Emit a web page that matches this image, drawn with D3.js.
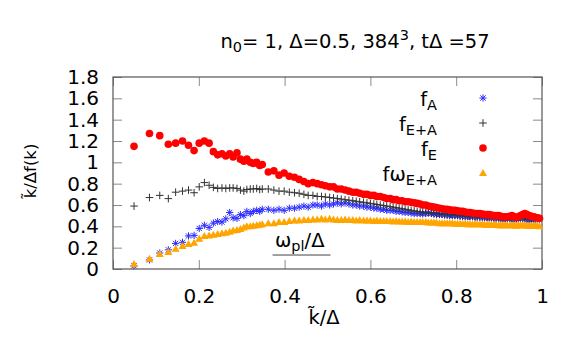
<!DOCTYPE html>
<html>
<head>
<meta charset="utf-8">
<script src="https://cdn.jsdelivr.net/npm/d3@7"></script>
<style>
  body { margin: 0; background: #fff; }
  svg { display: block; font-family: "DejaVu Sans", sans-serif; }
</style>
</head>
<body>
<div class="chart"></div>
<script>
// k-bins (in units of Delta)
const kValues = [
  0.049, 0.085, 0.109, 0.129, 0.146, 0.162, 0.176, 0.189, 0.201, 0.213, 0.224, 0.234, 0.244,
  0.254, 0.263, 0.272, 0.280, 0.289, 0.297, 0.305, 0.312, 0.320, 0.327, 0.335, 0.342, 0.348,
  0.362, 0.375, 0.387, 0.399, 0.411, 0.423, 0.434, 0.445, 0.455, 0.466,
  0.476, 0.486, 0.495, 0.505, 0.514, 0.523, 0.532, 0.541, 0.550, 0.559,
  0.567, 0.575, 0.584, 0.592, 0.600, 0.608, 0.615, 0.623, 0.631, 0.638,
  0.646, 0.653, 0.660, 0.667, 0.674, 0.681, 0.688, 0.695, 0.702, 0.709,
  0.716, 0.722, 0.729, 0.735, 0.742, 0.748, 0.754, 0.761, 0.767, 0.773,
  0.779, 0.785, 0.791, 0.797, 0.803, 0.809, 0.815, 0.821, 0.827, 0.832,
  0.838, 0.844, 0.849, 0.855, 0.861, 0.866, 0.872, 0.877, 0.882, 0.888,
  0.893, 0.899, 0.904, 0.909, 0.914, 0.919, 0.925, 0.930, 0.935, 0.940,
  0.945, 0.950, 0.955, 0.960, 0.965, 0.970, 0.975, 0.980, 0.984, 0.989,
  0.994
];

const fA = [
  0.03, 0.085, 0.15, 0.18, 0.24, 0.25, 0.31, 0.315, 0.38, 0.41, 0.39, 0.43, 0.445,
  0.44, 0.47, 0.53, 0.48, 0.475, 0.51, 0.50, 0.54, 0.52, 0.54, 0.55, 0.54, 0.56,
  0.56, 0.55, 0.56, 0.55, 0.57, 0.57, 0.58, 0.59, 0.58, 0.60,
  0.60, 0.59, 0.61, 0.60, 0.61, 0.62, 0.61, 0.62, 0.61, 0.60,
  0.60, 0.59, 0.59, 0.58, 0.58, 0.57, 0.57, 0.56, 0.56, 0.55,
  0.55, 0.55, 0.54, 0.54, 0.535, 0.53, 0.53, 0.525, 0.52, 0.52,
  0.52, 0.515, 0.52, 0.525, 0.52, 0.515, 0.51, 0.51, 0.51, 0.505,
  0.505, 0.50, 0.50, 0.50, 0.50, 0.495, 0.495, 0.49, 0.49, 0.49,
  0.49, 0.485, 0.485, 0.485, 0.48, 0.48, 0.48, 0.48, 0.475, 0.475,
  0.475, 0.47, 0.47, 0.47, 0.47, 0.47, 0.47, 0.47, 0.465, 0.465,
  0.465, 0.47, 0.47, 0.47, 0.465, 0.46, 0.46, 0.465, 0.47, 0.47,
  0.47
];

const fEA = [
  0.59, 0.67, 0.69, 0.66, 0.72, 0.73, 0.74, 0.715, 0.77, 0.81, 0.785, 0.765, 0.755,
  0.76, 0.755, 0.76, 0.76, 0.755, 0.74, 0.73, 0.745, 0.75, 0.75, 0.755, 0.745, 0.75,
  0.75, 0.74, 0.73, 0.73, 0.72, 0.715, 0.71, 0.70, 0.69, 0.69,
  0.68, 0.68, 0.675, 0.67, 0.665, 0.66, 0.655, 0.65, 0.645, 0.64,
  0.635, 0.63, 0.625, 0.62, 0.615, 0.61, 0.605, 0.60, 0.595, 0.59,
  0.585, 0.58, 0.575, 0.57, 0.565, 0.56, 0.555, 0.55, 0.545, 0.54,
  0.535, 0.535, 0.53, 0.53, 0.525, 0.525, 0.52, 0.52, 0.515, 0.515,
  0.51, 0.51, 0.51, 0.505, 0.505, 0.50, 0.50, 0.50, 0.495, 0.495,
  0.495, 0.49, 0.49, 0.49, 0.49, 0.485, 0.485, 0.485, 0.485, 0.48,
  0.48, 0.48, 0.48, 0.48, 0.475, 0.475, 0.475, 0.475, 0.475, 0.475,
  0.475, 0.48, 0.48, 0.48, 0.475, 0.47, 0.47, 0.47, 0.47, 0.47,
  0.47
];

const fE = [
  1.15, 1.27, 1.25, 1.17, 1.18, 1.20, 1.16, 1.11, 1.18, 1.20, 1.18, 1.10, 1.07,
  1.08, 1.06, 1.08, 1.05, 1.09, 1.03, 1.01, 1.03, 1.00, 0.99, 1.00, 0.97, 0.98,
  0.91, 0.92, 0.88, 0.90, 0.87, 0.86, 0.84, 0.82, 0.80, 0.81,
  0.80, 0.79, 0.78, 0.77, 0.77, 0.75, 0.75, 0.74, 0.73, 0.72,
  0.72, 0.71, 0.70, 0.70, 0.69, 0.69, 0.68, 0.68, 0.67, 0.66,
  0.66, 0.65, 0.65, 0.64, 0.64, 0.63, 0.63, 0.625, 0.62, 0.615,
  0.61, 0.60, 0.60, 0.59, 0.585, 0.58, 0.575, 0.57, 0.565, 0.56,
  0.56, 0.555, 0.55, 0.55, 0.545, 0.54, 0.54, 0.535, 0.53, 0.53,
  0.525, 0.52, 0.52, 0.52, 0.515, 0.51, 0.51, 0.51, 0.505, 0.50,
  0.50, 0.50, 0.495, 0.49, 0.49, 0.49, 0.495, 0.50, 0.49, 0.485,
  0.49, 0.50, 0.51, 0.52, 0.51, 0.50, 0.495, 0.49, 0.485, 0.48,
  0.475
];

const fOmega = [
  0.047, 0.097, 0.14, 0.16, 0.19, 0.215, 0.234, 0.247, 0.284, 0.31, 0.315, 0.32, 0.328,
  0.335, 0.34, 0.35, 0.36, 0.365, 0.375, 0.39, 0.40, 0.40, 0.405, 0.41, 0.415, 0.42,
  0.43, 0.43, 0.44, 0.44, 0.45, 0.455, 0.455, 0.46, 0.46, 0.465,
  0.465, 0.47, 0.465, 0.47, 0.465, 0.46, 0.46, 0.465, 0.46, 0.46,
  0.455, 0.46, 0.455, 0.455, 0.455, 0.45, 0.455, 0.45, 0.45, 0.45,
  0.45, 0.445, 0.45, 0.445, 0.445, 0.445, 0.44, 0.445, 0.44, 0.44,
  0.44, 0.44, 0.44, 0.435, 0.435, 0.435, 0.435, 0.43, 0.43, 0.43,
  0.43, 0.43, 0.43, 0.425, 0.425, 0.425, 0.425, 0.425, 0.42, 0.42,
  0.42, 0.42, 0.42, 0.42, 0.42, 0.415, 0.415, 0.415, 0.415, 0.415,
  0.415, 0.41, 0.41, 0.41, 0.41, 0.41, 0.41, 0.41, 0.41, 0.405,
  0.41, 0.41, 0.41, 0.41, 0.405, 0.405, 0.405, 0.405, 0.405, 0.405,
  0.40
];

const xTicks = [0, 0.2, 0.4, 0.6, 0.8, 1];
const xTickLabels = ["0", "0.2", "0.4", "0.6", "0.8", "1"];
const yTicks = [0, 0.2, 0.4, 0.6, 0.8, 1, 1.2, 1.4, 1.6, 1.8];
const yTickLabels = ["0", "0.2", "0.4", "0.6", "0.8", "1", "1.2", "1.4", "1.6", "1.8"];

const legendNames = ["f", "f", "f", "fω"];
const legendSubs = ["A", "E+A", "E", "E+A"];

// omega_pl marker: k range and level
const omegaRange = [0.372, 0.507];
const omegaLevel = 0.131;

const seriesList = [
  { values: fA, marker: "star", color: "#2b2bff" },
  { values: fEA, marker: "plus", color: "#333333" },
  { values: fE, marker: "circle", color: "#ff0000" },
  { values: fOmega, marker: "triangle", color: "#ffa500" },
];

const markerPaths = {
  star: "M-3.6,0H3.6M0,-3.6V3.6M-2.6,-2.6L2.6,2.6M-2.6,2.6L2.6,-2.6",
  plus: "M-3.8,0H3.8M0,-3.8V3.8",
  circle: d3.symbol().type(d3.symbolCircle).size(Math.PI * 3.8 * 3.8)(),
  triangle: "M0,-4L4,3L-4,3Z",
};

class SpectrumPlot {
  constructor(_config) {
    this.config = {
      parentElement: _config.parentElement,
      containerWidth: _config.containerWidth || 581,
      containerHeight: _config.containerHeight || 349,
      plot: _config.plot || { left: 113, right: 542, top: 77, bottom: 269 },
    };
    this.initVis();
  }

  initVis() {
    let vis = this;
    let p = vis.config.plot;

    vis.svg = d3
      .select(vis.config.parentElement)
      .append("svg")
      .attr("width", vis.config.containerWidth)
      .attr("height", vis.config.containerHeight);

    vis.x = d3.scaleLinear().domain([0, 1]).range([p.left, p.right]);
    vis.y = d3.scaleLinear().domain([0, 1.8]).range([p.bottom, p.top]);

    const styleAxis = (g) => {
      g.select(".domain").remove();
      g.selectAll(".tick line").attr("stroke", "#8a8a8a");
      g.selectAll("text")
        .attr("fill", "#000")
        .style("font-family", "DejaVu Sans")
        .style("font-size", "20px");
    };

    vis.svg
      .append("g")
      .attr("transform", "translate(0," + p.bottom + ")")
      .call(
        d3.axisBottom(vis.x).tickValues(xTicks)
          .tickFormat((d, i) => xTickLabels[i]).tickSize(-9).tickPadding(20)
      )
      .call(styleAxis);

    vis.svg
      .append("g")
      .attr("transform", "translate(0," + p.top + ")")
      .call(d3.axisTop(vis.x).tickValues(xTicks).tickFormat("").tickSize(-9))
      .call(styleAxis);

    vis.svg
      .append("g")
      .attr("transform", "translate(" + p.left + ",0)")
      .call(
        d3.axisLeft(vis.y).tickValues(yTicks)
          .tickFormat((d, i) => yTickLabels[i]).tickSize(-9).tickPadding(14)
      )
      .call(styleAxis);

    vis.svg
      .append("g")
      .attr("transform", "translate(" + p.right + ",0)")
      .call(d3.axisRight(vis.y).tickValues(yTicks).tickFormat("").tickSize(-9))
      .call(styleAxis);

    vis.svg
      .append("rect")
      .attr("x", p.left)
      .attr("y", p.top)
      .attr("width", p.right - p.left)
      .attr("height", p.bottom - p.top)
      .attr("fill", "none")
      .attr("stroke", "#555")
      .attr("stroke-width", 1.2);

    // title
    let title = vis.svg
      .append("text")
      .attr("x", 355)
      .attr("y", 48)
      .attr("text-anchor", "middle")
      .style("font-size", "19.5px");
    title.append("tspan").text("n");
    title.append("tspan").attr("dy", 4).style("font-size", "14.5px").text("0");
    title.append("tspan").attr("dy", -4).text("= 1, Δ=0.5, 384");
    title.append("tspan").attr("dy", -8).style("font-size", "14.5px").text("3");
    title.append("tspan").attr("dy", 8).text(", tΔ =57");

    // axis titles
    vis.svg
      .append("text")
      .attr("x", 324)
      .attr("y", 324)
      .attr("text-anchor", "middle")
      .style("font-size", "19.5px")
      .text("k\u0303/Δ");

    vis.svg
      .append("text")
      .attr("transform", "translate(36,171) rotate(-90)")
      .attr("text-anchor", "middle")
      .style("font-size", "16.5px")
      .text("k\u0303/Δf(k)");
  }

  renderVis() {
    let vis = this;

    seriesList.forEach((s) => {
      let pts = kValues.map((k, i) => ({ k: k, v: s.values[i] }));
      let g = vis.svg.append("g");
      g.selectAll("path")
        .data(pts)
        .enter()
        .append("path")
        .attr("transform", (d) => "translate(" + vis.x(d.k) + "," + vis.y(d.v) + ")")
        .attr("d", markerPaths[s.marker])
        .attr("fill", s.marker === "circle" || s.marker === "triangle" ? s.color : "none")
        .attr("stroke", s.marker === "circle" || s.marker === "triangle" ? "none" : s.color)
        .attr("stroke-width", 1);
    });

    // legend
    seriesList.forEach((s, i) => {
      let yy = 98 + i * 25;
      let t = vis.svg
        .append("text")
        .attr("x", 437)
        .attr("y", yy + 8)
        .attr("text-anchor", "end")
        .style("font-size", "19.5px");
      t.append("tspan").text(legendNames[i]);
      t.append("tspan").attr("dy", 4).style("font-size", "14.5px").text(legendSubs[i]);
      vis.svg
        .append("path")
        .attr("transform", "translate(483," + yy + ")")
        .attr("d", markerPaths[s.marker])
        .attr("fill", s.marker === "circle" || s.marker === "triangle" ? s.color : "none")
        .attr("stroke", s.marker === "circle" || s.marker === "triangle" ? "none" : s.color)
        .attr("stroke-width", 1);
    });

    // omega_pl label with its bar
    let om = vis.svg
      .append("text")
      .attr("x", 275)
      .attr("y", 247)
      .style("font-size", "19.5px");
    om.append("tspan").text("ω");
    om.append("tspan").attr("dy", 4).style("font-size", "14.5px").text("pl");
    om.append("tspan").attr("dy", -4).text("/Δ");

    vis.svg
      .append("line")
      .attr("x1", vis.x(omegaRange[0]))
      .attr("x2", vis.x(omegaRange[1]))
      .attr("y1", vis.y(omegaLevel))
      .attr("y2", vis.y(omegaLevel))
      .attr("stroke", "#444")
      .attr("stroke-width", 1);
  }
}

let plot = new SpectrumPlot({ parentElement: ".chart" });
plot.renderVis();
</script>
</body>
</html>
